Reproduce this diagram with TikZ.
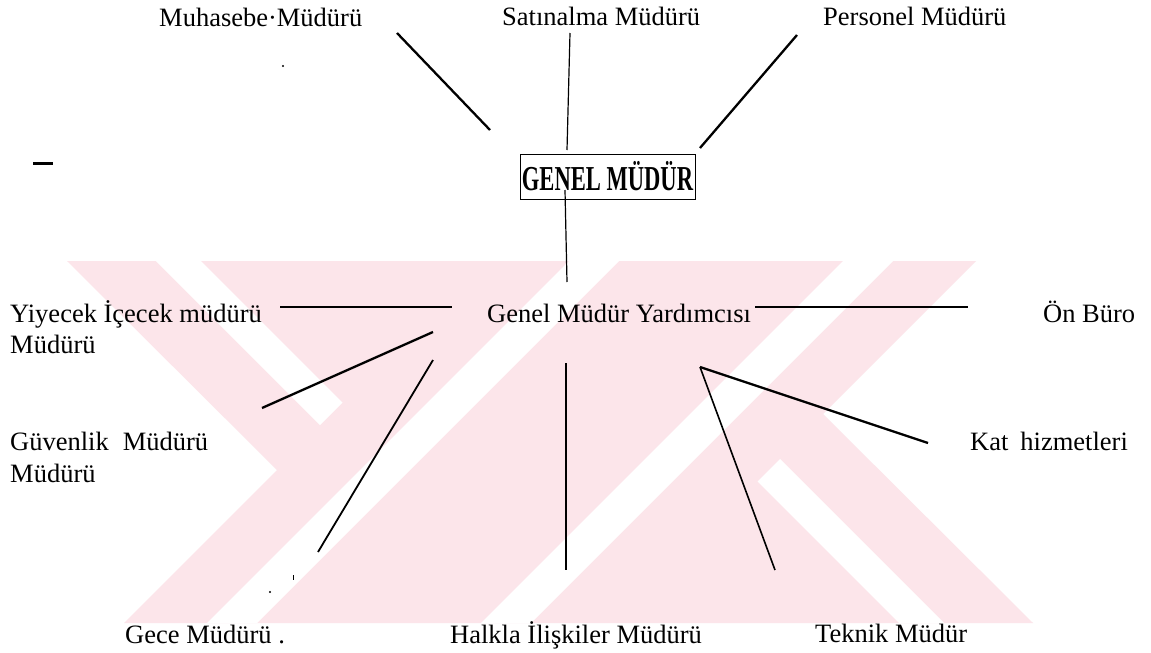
\documentclass[tikz,border=0pt]{standalone}
\usepackage{fontspec}
\usepackage{graphicx}
\setmainfont{Liberation Serif}
\definecolor{wm}{RGB}{252,229,234}
\begin{document}
\begin{tikzpicture}[x=1pt,y=-1pt,
  lab/.style={inner sep=0pt, anchor=base west, font=\fontsize{26.5}{31}\selectfont},
  thick line/.style={line width=2.3pt},
  mid line/.style={line width=1.8pt},
  thin line/.style={line width=1.2pt},
  speck/.style={fill=black}]
\useasboundingbox (0,0) rectangle (1151,653);
\fill[white] (0,0) rectangle (1151,653);
% watermark
\fill[wm] (67,261) -- (976,261) -- (823,414) -- (1033,623) -- (124,623) -- (277,470) -- cycle;
\fill[white] (156,261) -- (201,261) -- (342.5,402.5) -- (320,425) -- cycle;
\fill[white] (944,623) -- (899,623) -- (757.5,481.5) -- (780,459) -- cycle;
\fill[white] (569,261) -- (619,261) -- (257,623) -- (207,623) -- cycle;
\fill[white] (843,261) -- (893,261) -- (531,623) -- (481,623) -- cycle;
% labels
\node[lab] (mu) at (159,26) {Muhasebe·Müdürü};
\node[lab] (sa) at (502,25) {Satınalma Müdürü};
\node[lab] (pe) at (823,25) {Personel Müdürü};
\node[draw, line width=0.9pt, inner sep=0pt, minimum width=175pt, minimum height=45pt,
      font=\fontsize{35}{38}\selectfont\bfseries] (gm) at (607.5,176.5) {\scalebox{0.645}[1]{GENEL MÜDÜR}};
\node[lab] (gmy) at (487,322) {Genel Müdür Yardımcısı};
\node[lab] (yi) at (10,322) {Yiyecek İçecek müdürü};
\node[lab] (yib) at (10,353) {Müdürü};
\node[lab] (on) at (1043,322) {Ön Büro};
\node[lab] (gu) at (10,450) {Güvenlik\hspace{14pt}Müdürü};
\node[lab] (gub) at (10,482) {Müdürü};
\node[lab] (kat) at (970,450) {Kat\hspace{12pt}hizmetleri};
\node[lab] (ge) at (125,643) {Gece Müdürü .};
\node[lab] (ha) at (450,643) {Halkla İlişkiler Müdürü};
\node[lab] (te) at (815,642) {Teknik Müdür};
% connector end points
\coordinate (m1) at (397,33);  \coordinate (m2) at (490,130);
\coordinate (s1) at (570,33);  \coordinate (s2) at (567,150);
\coordinate (p1) at (797,35);  \coordinate (p2) at (700,148);
\coordinate (g1) at (565,190); \coordinate (g2) at (567,282);
\coordinate (h1) at (280,307); \coordinate (h2) at (452,307);
\coordinate (h3) at (755,307); \coordinate (h4) at (968,307);
\coordinate (u1) at (433,332); \coordinate (u2) at (262,408);
\coordinate (c1) at (433,360); \coordinate (c2) at (318,552);
\coordinate (k1) at (566,363); \coordinate (k2) at (566,570);
\coordinate (t1) at (700,367); \coordinate (t2) at (775,570);
\coordinate (a2) at (928,443);
% connectors
\draw[thick line] (m1) -- (m2);
\draw[thin line] (s1) -- (s2);
\draw[thick line] (p1) -- (p2);
\draw[thin line] (g1) -- (g2);
\draw[mid line] (h1) -- (h2);
\draw[mid line] (h3) -- (h4);
\draw[thick line] (u1) -- (u2);
\draw[mid line] (c1) -- (c2);
\draw[thin line] (k1) -- (k2);
\draw[line width=1.6pt] (t1) -- (t2);
\draw[thick line] (t1) -- (a2);
% stray marks of the scan
\coordinate (d1) at (33,163); \coordinate (d2) at (53,163);
\draw[line width=3pt] (d1) -- (d2);
\fill[speck] (283,66) circle (1.2pt);
\fill[speck] (270,592) circle (1.1pt);
\draw[line width=1pt] (293,575) -- (293,580);
\end{tikzpicture}
\end{document}
